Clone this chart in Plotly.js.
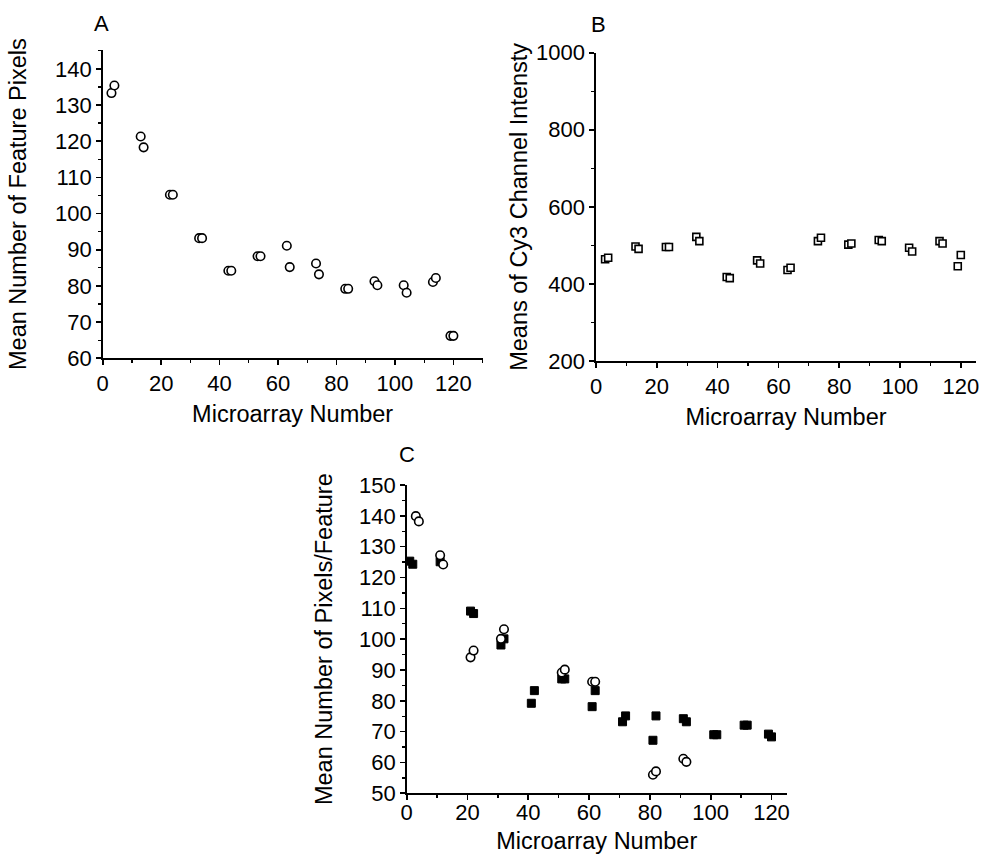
<!DOCTYPE html>
<html>
<head>
<meta charset="utf-8">
<script src="https://cdn.plot.ly/plotly-3.0.1.min.js"></script>
<style>html,body{margin:0;padding:0;background:#fff;}#chart{width:982px;height:854px;}</style>
</head>
<body>
<div id="chart"></div>
<script>
// Panel A: Mean number of feature pixels
const aX = [3,4,13,14,23,24,33,34,43,44,53,54,63,64,73,74,83,84,93,94,103,104,113,114,119,120];
const aY = [133.3,135.4,121.3,118.3,105.2,105.2,93.2,93.2,84.2,84.2,88.2,88.2,91.1,85.2,86.2,83.2,79.2,79.2,81.3,80.2,80.2,78.1,81.1,82.2,66.2,66.2];

// Panel B: Means of Cy3 channel intensity
const bX = [3,4,13,14,23,24,33,34,43,44,53,54,63,64,73,74,83,84,93,94,103,104,113,114,119,120];
const bY = [464,468,497,491,496,496,522,511,418,415,461,453,436,442,511,520,502,505,514,511,494,484,511,505,446,475];

// Panel C: Mean number of pixels/feature (two series)
const cCircX = [3,4,11,12,21,22,31,32,51,52,61,62,81,82,91,92];
const cCircY = [139.9,138.2,127.2,124.2,94.1,96.3,100.1,103.2,89.2,90.1,86.2,86.2,56.0,57.1,61.2,60.2];
const cSqX = [1,2,11,21,22,31,32,41,42,51,52,61,62,71,72,81,82,91,92,101,102,111,112,119,120];
const cSqY = [125.3,124.3,125.1,109.1,108.3,98.1,100.1,79.2,83.3,87.1,87.1,78.1,83.3,73.2,75.1,67.2,75.1,74.2,73.2,69.0,69.0,72.1,72.1,69.2,68.3];

const xTitle = 'Microarray Number';
const aYTitle = 'Mean Number of Feature Pixels';
const bYTitle = 'Means of Cy3 Channel Intensty';
const cYTitle = 'Mean Number of Pixels/Feature';
const panelLabels = ['A','B','C'];

const FONT = 'Liberation Sans, Arial, sans-serif';
const TICK = 22, TITLE = 23.5;

const openCircle = {symbol:'circle', size:8.5, color:'white', line:{color:'black', width:1.6}};
const openSquare = {symbol:'square', size:7, color:'white', line:{color:'black', width:1.6}};
const filledSquare = {symbol:'square', size:8, color:'black', line:{color:'black', width:1}};

const traces = [
  {x:aX, y:aY, type:'scatter', mode:'markers', marker:openCircle, xaxis:'x', yaxis:'y', cliponaxis:false},
  {x:bX, y:bY, type:'scatter', mode:'markers', marker:openSquare, xaxis:'x2', yaxis:'y2', cliponaxis:false},
  {x:cSqX, y:cSqY, type:'scatter', mode:'markers', marker:filledSquare, xaxis:'x3', yaxis:'y3', cliponaxis:false},
  {x:cCircX, y:cCircY, type:'scatter', mode:'markers', marker:openCircle, xaxis:'x3', yaxis:'y3', cliponaxis:false}
];

function minor(d){return {ticks:'outside', ticklen:3, tickwidth:1.3, tickcolor:'black', dtick:d, showgrid:false};}
function axis(opts) {
  return Object.assign({
    showline:true, linecolor:'black', linewidth:1.6, mirror:false,
    showgrid:false, zeroline:false,
    ticks:'outside', ticklen:5, tickwidth:1.6, tickcolor:'black',
    tickfont:{family:FONT, size:TICK, color:'black'},
    fixedrange:true, tick0:0
  }, opts);
}
function ttl(text, standoff){return {text:text, font:{family:FONT, size:TITLE, color:'black'}, standoff:standoff};}

const W = 982, H = 854;
function dx(a,b){return [a/W, b/W];}
function dy(top,bottom){return [1-bottom/H, 1-top/H];}

const layout = {
  width:W, height:H,
  margin:{l:0,r:0,t:0,b:0},
  paper_bgcolor:'white', plot_bgcolor:'white',
  showlegend:false,
  font:{family:FONT, color:'black'},
  xaxis: axis({domain:dx(102.7,482.6), anchor:'y', range:[0,130], dtick:20, minor:minor(10), title:ttl(xTitle, 10)}),
  yaxis: axis({domain:dy(50,358.3), anchor:'x', range:[60,145.2], dtick:10, minor:minor(5), title:ttl(aYTitle, 22)}),
  xaxis2: axis({domain:dx(596,976), anchor:'y2', range:[0,125], dtick:20, minor:minor(10), title:ttl(xTitle, 10)}),
  yaxis2: axis({domain:dy(52.7,361), anchor:'x2', range:[200,1000], dtick:200, minor:minor(100), title:ttl(bYTitle, 2)}),
  xaxis3: axis({domain:dx(406.7,786.7), anchor:'y3', range:[0,125], dtick:20, minor:minor(10), ticklabelstandoff:-6, title:ttl(xTitle, 10)}),
  yaxis3: axis({domain:dy(485,793.3), anchor:'x3', range:[50,150], dtick:10, minor:minor(5), title:ttl(cYTitle, 20)}),
  annotations:[
    {text:panelLabels[0], xref:'paper', yref:'paper', x:101/W, y:1-23/H, xanchor:'center', yanchor:'middle', showarrow:false, font:{family:FONT, size:22, color:'black'}},
    {text:panelLabels[1], xref:'paper', yref:'paper', x:598/W, y:1-24/H, xanchor:'center', yanchor:'middle', showarrow:false, font:{family:FONT, size:22, color:'black'}},
    {text:panelLabels[2], xref:'paper', yref:'paper', x:407/W, y:1-454/H, xanchor:'center', yanchor:'middle', showarrow:false, font:{family:FONT, size:22, color:'black'}}
  ]
};

Plotly.newPlot('chart', traces, layout, {displayModeBar:false, staticPlot:true});
</script>
</body>
</html>
